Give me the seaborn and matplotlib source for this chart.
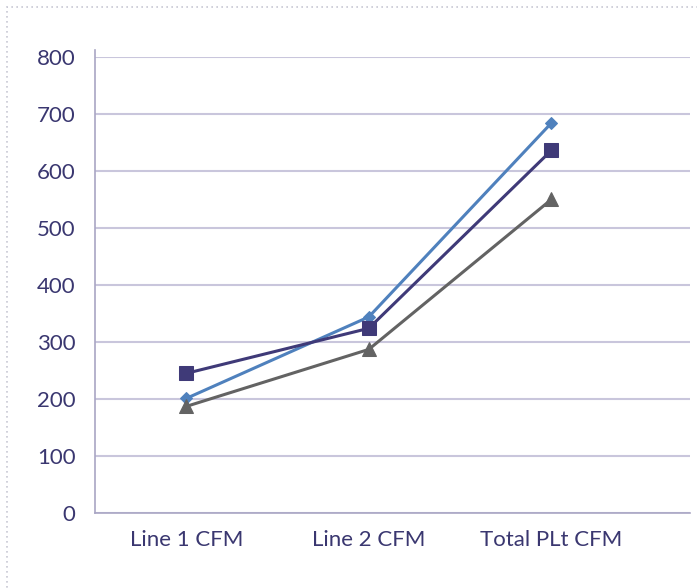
import matplotlib
matplotlib.use("Agg")
import matplotlib.pyplot as plt
import seaborn as sns
import pandas as pd
from matplotlib.patches import Rectangle

categories = ["Line 1 CFM", "Line 2 CFM", "Total PLt CFM"]
series_a = [201, 344, 684]   # blue diamonds
series_b = [245, 324, 636]   # dark purple squares
series_c = [187, 287, 550]   # gray triangles
series_names = ["Series A", "Series B", "Series C"]
yticks = [0, 100, 200, 300, 400, 500, 600, 700, 800]

rows = []
for name, vals in zip(series_names, [series_a, series_b, series_c]):
    for i, (c, v) in enumerate(zip(categories, vals)):
        rows.append({"series": name, "x": i, "cat": c, "value": v})
df = pd.DataFrame(rows)

sns.set_theme(style="white")
plt.rcParams["font.family"] = ["Lato", "DejaVu Sans"]

text_col = "#3A3770"
grid_col = "#C9C6DC"
palette = {"Series A": "#4F81BD", "Series B": "#3F3A78", "Series C": "#636363"}
markers = {"Series A": "D", "Series B": "s", "Series C": "^"}
msize = {"Series A": 6, "Series B": 10, "Series C": 10}

fig = plt.figure(figsize=(6.97, 5.88), dpi=100)
ax = fig.add_axes([95/697, 1-513/588, (690-95)/697, (513-57)/588])

for name in series_names:
    sub = df[df.series == name]
    sns.lineplot(data=sub, x="x", y="value", ax=ax, color=palette[name],
                 marker=markers[name], markersize=msize[name],
                 markeredgecolor=palette[name], linewidth=2.2, legend=False)

ax.set_ylim(0, 800)
ax.set_xlim(-0.5, 2.76)
ax.set_yticks(yticks)
ax.set_yticklabels([str(t) for t in yticks], color=text_col, fontsize=16)
ax.set_xticks(range(len(categories)))
ax.set_xticklabels(categories, color=text_col, fontsize=16)
ax.set_xticks([-0.5, 0.5, 1.5, 2.5], minor=True)
ax.tick_params(axis="x", which="major", length=0, pad=12)
ax.tick_params(axis="x", which="minor", length=6, color="#A9A6C4", width=1.2, direction="out")
ax.tick_params(axis="y", length=6, color="#A9A6C4", width=1.2, pad=8)
ax.set_xlabel("")
ax.set_ylabel("")
ax.grid(axis="y", color=grid_col, linewidth=1.5)
ax.set_axisbelow(True)
for s in ["top", "right"]:
    ax.spines[s].set_visible(False)
ax.spines["left"].set_color("#A9A6C4")
ax.spines["bottom"].set_color("#A9A6C4")
ax.spines["left"].set_linewidth(1.2)
ax.spines["bottom"].set_linewidth(1.2)
ax.spines["left"].set_bounds(0, 812)

border = Rectangle((7/697, -0.1), 1.2, 1 - 7/588 + 0.1, transform=fig.transFigure,
                   fill=False, edgecolor="#C8C8D4", linestyle=(0, (1, 2)), linewidth=1.2)
fig.patches.append(border)

fig.savefig("out.png", dpi=100)
